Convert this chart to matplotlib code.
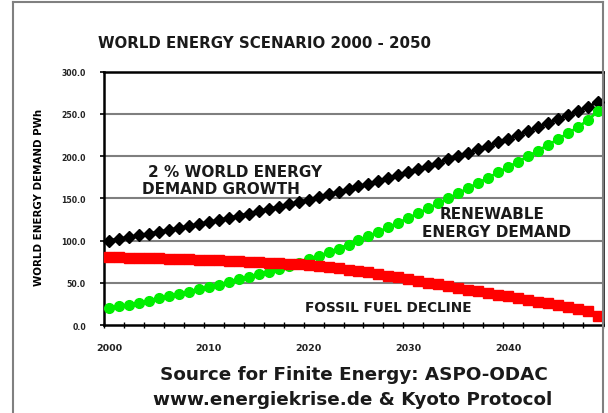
import matplotlib
matplotlib.use("Agg")
import matplotlib.pyplot as plt
from matplotlib.lines import Line2D

years = list(range(2000, 2050))
demand_growth = [100.0, 102.0, 104.0, 106.1, 108.2, 110.4, 112.6, 114.9, 117.2, 119.5,
                 121.9, 124.3, 126.8, 129.4, 131.9, 134.6, 137.3, 140.0, 142.8, 145.7,
                 148.6, 151.6, 154.6, 157.7, 160.8, 164.1, 167.3, 170.7, 174.1, 177.6,
                 181.1, 184.8, 188.5, 192.2, 196.1, 200.0, 204.0, 208.1, 212.2, 216.5,
                 220.8, 225.2, 229.7, 234.3, 239.0, 243.8, 248.7, 253.6, 258.7, 263.9]
fossil_fuel = [80.0, 80.0, 79.8, 79.5, 79.2, 78.8, 78.4, 78.0, 77.6, 77.2,
               76.8, 76.4, 76.0, 75.5, 75.0, 74.5, 74.0, 73.4, 72.7, 72.0,
               71.0, 69.9, 68.6, 67.2, 65.6, 64.0, 62.2, 60.3, 58.4, 56.4,
               54.4, 52.4, 50.3, 48.2, 46.1, 44.0, 41.9, 39.8, 37.8, 35.8,
               33.8, 31.8, 29.8, 27.8, 25.8, 23.7, 21.5, 19.2, 16.0, 10.5]
renewable = [20.0, 22.0, 24.2, 26.6, 29.0, 31.6, 34.2, 36.9, 39.6, 42.3,
             45.1, 47.9, 50.8, 53.9, 56.9, 60.1, 63.3, 66.6, 70.1, 73.7,
             77.6, 81.7, 86.0, 90.5, 95.2, 100.1, 105.1, 110.4, 115.7, 121.2,
             126.7, 132.4, 138.2, 144.0, 150.0, 156.0, 162.1, 168.3, 174.4, 180.7,
             187.0, 193.4, 199.9, 206.5, 213.2, 220.1, 227.2, 234.4, 242.7, 253.4]
x_labels = [2000, 2010, 2020, 2030, 2040]
y_ticks = [0, 50, 100, 150, 200, 250, 300]

W, H = 608, 414
fig = plt.figure(figsize=(W / 100, H / 100), dpi=100)
fig.patch.set_facecolor("white")

ax = fig.add_axes([104 / W, 1 - 326 / H, (603 - 104) / W, (326 - 72.7) / H])
ax.set_xlim(1999.5, 2049.5)
ax.set_ylim(0, 300)

for v in y_ticks[1:-1]:
    ax.axhline(v, color="#7f7f7f", lw=1.5, zorder=1)

ax.plot(years, demand_growth, color="black", lw=2, marker="D", ms=6.6,
        mfc="black", mec="black", zorder=3, clip_on=False)
ax.plot(years, renewable, color="#00ee00", lw=2, marker="o", ms=7.0,
        mfc="#00ee00", mec="#00ee00", zorder=4, clip_on=False)
ax.plot(years, fossil_fuel, color="#ff0000", lw=2, marker="s", ms=7.6,
        mfc="#ff0000", mec="#ff0000", zorder=5, clip_on=False)

for s in ax.spines.values():
    s.set_linewidth(1.8)
    s.set_color("black")

ax.set_yticks(y_ticks)
ax.set_yticklabels([f"{v:.1f}" for v in y_ticks], fontsize=5.6,
                   fontweight="bold", family="DejaVu Sans", color="#222222")
ax.tick_params(axis="y", direction="out", length=3, width=1.2, pad=10)

ax.set_xticks(x_labels)
ax.set_xticklabels([str(v) for v in x_labels], fontsize=6.8,
                   fontweight="bold", family="DejaVu Sans", color="#222222")
ax.tick_params(axis="x", which="major", length=0, pad=13)
ax.set_xticks([1999.5 + 2 * k for k in range(26)], minor=True)
ax.tick_params(axis="x", which="minor", direction="inout", length=5, width=1)

ax.set_ylabel("WORLD ENERGY DEMAND PWh", fontsize=7.4, fontweight="heavy",
              family="DejaVu Sans", color="black")
ax.yaxis.set_label_coords((44 - 104) / (603 - 104), (326 - 197) / (326 - 72.7))

txt = dict(family="DejaVu Sans", fontweight="bold", color="#1a1a1a",
           transform=fig.transFigure, ha="center", va="center")
fig.text(265 / W, 1 - 43 / H, "WORLD ENERGY SCENARIO 2000 - 2050", fontsize=10.8, **txt)
fig.text(235 / W, 1 - 172.5 / H, "2 % WORLD ENERGY", fontsize=11, **txt)
fig.text(221 / W, 1 - 190 / H, "DEMAND GROWTH", fontsize=11, **txt)
fig.text(492 / W, 1 - 215 / H, "RENEWABLE", fontsize=11, **txt)
fig.text(496 / W, 1 - 233 / H, "ENERGY DEMAND", fontsize=11, **txt)
fig.text(388 / W, 1 - 308 / H, "FOSSIL FUEL DECLINE", fontsize=9.8, **txt)
fig.text(354 / W, 1 - 375 / H, "Source for Finite Energy: ASPO-ODAC", fontsize=13.2, **txt)
fig.text(353 / W, 1 - 400 / H, "www.energiekrise.de & Kyoto Protocol", fontsize=13.2, **txt)

frame_kw = dict(color="#808080", lw=1.5, transform=fig.transFigure)
fig.add_artist(Line2D([13 / W, 13 / W], [0, 1 - 3 / H], **frame_kw))
fig.add_artist(Line2D([13 / W, 603 / W], [1 - 3 / H, 1 - 3 / H], **frame_kw))
fig.add_artist(Line2D([603 / W, 603 / W], [0, 1 - 3 / H], **frame_kw))

fig.savefig("out.png", dpi=100)
